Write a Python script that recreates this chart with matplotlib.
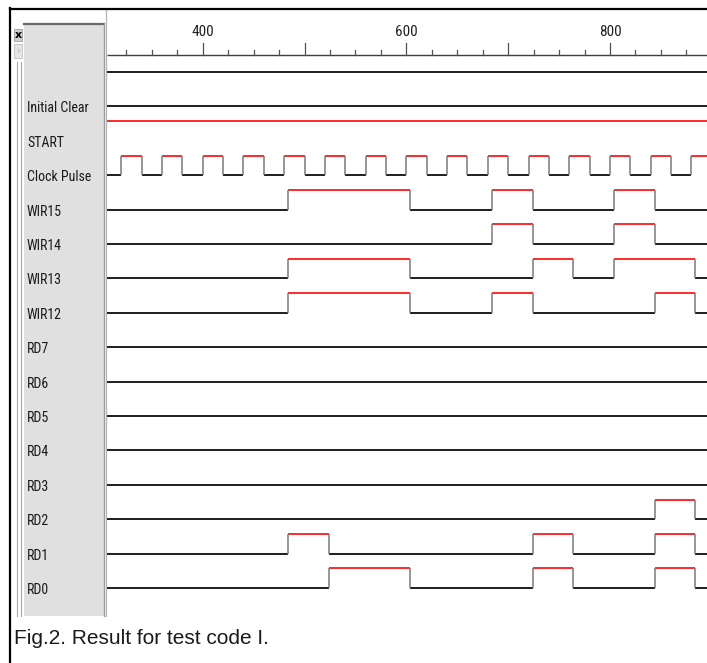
import matplotlib
matplotlib.use("Agg")
import matplotlib.pyplot as plt
from matplotlib.patches import Rectangle
from matplotlib.lines import Line2D
from matplotlib.transforms import blended_transform_factory
from matplotlib import font_manager

# ---------------- data ----------------
signal_names = ["", "Initial Clear", "START", "Clock Pulse", "WIR15", "WIR14",
                "WIR13", "WIR12", "RD7", "RD6", "RD5", "RD4", "RD3", "RD2",
                "RD1", "RD0"]
initial_levels = [0, 0, 1, 0, 0, 0, 0, 0, 0, 0, 0, 0, 0, 0, 0, 0]

clock_edges = [320, 340, 360, 380, 400, 420, 440, 460, 480, 500, 520, 540,
               560, 580, 600, 620, 640, 660, 680, 700, 720, 740, 760, 780,
               800, 820, 840, 860, 880]
wir15_edges = [484, 604, 684, 724, 804, 844]
wir14_edges = [684, 724, 804, 844]
wir13_edges = [484, 604, 724, 764, 804, 884]
wir12_edges = [484, 604, 684, 724, 844, 884]
rd2_edges = [844, 884]
rd1_edges = [484, 524, 724, 764, 844, 884]
rd0_edges = [524, 604, 724, 764, 844, 884]

signal_edges = [[], [], [], clock_edges, wir15_edges, wir14_edges,
                wir13_edges, wir12_edges, [], [], [], [], [], rd2_edges,
                rd1_edges, rd0_edges]

tick_values = [325, 350, 375, 400, 425, 450, 475, 500, 525, 550, 575, 600,
               625, 650, 675, 700, 725, 750, 775, 800, 825, 850, 875]
major_ticks = [400, 500, 600, 700, 800]
labeled_ticks = [400, 600, 800]

T_MIN, T_MAX = 306.0, 895.3

# narrow font if available
names = {f.name for f in font_manager.fontManager.ttflist}
narrow = None
for cand in ["Liberation Sans Narrow", "Arial Narrow", "DejaVu Sans Condensed",
             "Roboto Condensed", "Open Sans Condensed"]:
    if cand in names:
        narrow = cand
        break
label_font = [narrow, "Liberation Sans", "DejaVu Sans"] if narrow else \
    ["Liberation Sans", "DejaVu Sans"]

# ---------------- layout helpers ----------------
W, H = 707, 663
fig = plt.figure(figsize=(W / 100, H / 100), dpi=100)
fig.patch.set_facecolor("white")


def fx(px):
    return px / W


def fy(py):
    return 1 - py / H


def frect(x0, y0, x1, y1, **kw):
    fig.add_artist(Rectangle((fx(x0), fy(y1)), fx(x1) - fx(x0), fy(y0) - fy(y1),
                             transform=fig.transFigure, zorder=-2, **kw))


def fline(xs, ys, **kw):
    fig.add_artist(Line2D([fx(x) for x in xs], [fy(y) for y in ys],
                          transform=fig.transFigure, zorder=-1, **kw))


ROW0 = 72.0
SPACING = 34.4
TOP, BOTTOM = 8.0, 616.0
HIGH = 0.57

# label panel & strip
frect(24, 23, 104, 616, facecolor="#e0e0e0", edgecolor="none")
fline([24, 104], [23.8, 23.8], color="#6a6a6a", lw=1.6)
fline([103.6, 103.6], [23, 616], color="#9a9a9a", lw=1.0)
fline([106.4, 106.4], [10, 616], color="#b4b4b4", lw=0.9)
# small button strip
frect(14, 29, 22, 41, facecolor="#d0d0d0", edgecolor="#a0a0a0", lw=0.6)
fig.text(fx(18), fy(35), "x", ha="center", va="center", fontsize=8,
         fontweight="bold", color="black", family="DejaVu Sans")
frect(14, 44, 22, 58, facecolor="#e6e6e6", edgecolor="#c0c0c0", lw=0.6)
fig.text(fx(18), fy(51), "›", ha="center", va="center", fontsize=7,
         color="#b0b0b0", family="DejaVu Sans")
fline([17.3, 17.3], [62, 616], color="#a8a8a8", lw=0.8)
fline([20.7, 20.7], [62, 616], color="#a8a8a8", lw=0.8)

# outer border
fline([10, 707], [8.5, 8.5], color="black", lw=1.6)
fline([10.2, 10.2], [8, 663], color="black", lw=1.6)

# ---------------- waveform axes ----------------
ax = fig.add_axes([fx(107), fy(BOTTOM), fx(707) - fx(107), fy(TOP) - fy(BOTTOM)])
ax.set_xlim(T_MIN, T_MAX)
ax.set_ylim((BOTTOM - ROW0) / SPACING, (TOP - ROW0) / SPACING)
ax.axis("off")
ax.patch.set_alpha(0)

# ruler
base = (55 - ROW0) / SPACING
ax.plot([T_MIN, T_MAX], [base, base], color="#404040", lw=1.0,
        solid_capstyle="butt")
for t in tick_values:
    ln = 12 / SPACING if t in major_ticks else 5 / SPACING
    ax.plot([t, t], [base, base - ln], color="#505050", lw=0.9)
for t in labeled_ticks:
    ax.text(t, (32 - ROW0) / SPACING, str(t), ha="center", va="center",
            fontsize=11 if narrow else 10, color="#222222", family=label_font)

# signals
for i, (name, lvl, edges) in enumerate(zip(signal_names, initial_levels,
                                              signal_edges)):
    times = [T_MIN] + list(edges) + [T_MAX]
    level = lvl
    for a, b in zip(times[:-1], times[1:]):
        y = i - HIGH * level
        ax.plot([a, b], [y, y], color="#ff2a2a" if level else "#1e1e1e",
                lw=1.4, solid_capstyle="butt")
        level = 1 - level
    for t in edges:
        ax.plot([t, t], [i, i - HIGH], color="#7a7a7a", lw=1.1,
                solid_capstyle="butt")

# labels
trans = blended_transform_factory(fig.transFigure, ax.transData)
for i, name in enumerate(signal_names):
    if name:
        fig.text(fx(27), i + 0.06, name, transform=trans, ha="left",
                 va="center", fontsize=10 if narrow else 8.5,
                 color="#1a1a1a", family=label_font, zorder=5)

# caption
fig.text(fx(14), fy(638), "Fig.2. Result for test code I.", ha="left",
         va="center", fontsize=15, color="#1a1a1a",
         family=["Liberation Sans", "DejaVu Sans"])

fig.savefig("out.png", dpi=100)
